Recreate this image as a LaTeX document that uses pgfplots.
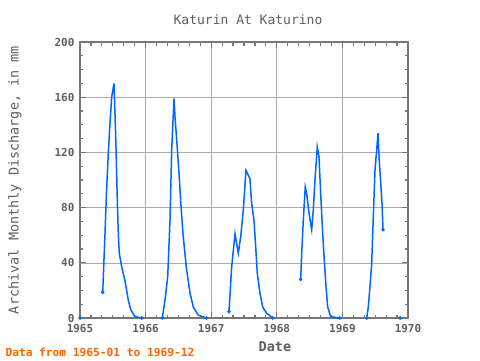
\documentclass[border=0pt]{standalone}
\usepackage{fontspec}
\setmainfont{DejaVu Sans Mono}
\usepackage{pgfplots}
\pgfplotsset{compat=1.18}
\definecolor{lineblue}{RGB}{0,102,255}
\definecolor{framegray}{RGB}{119,119,119}
\definecolor{textgray}{RGB}{95,95,95}
\definecolor{footorange}{RGB}{255,102,0}
\begin{document}
\begin{tikzpicture}[x=1pt,y=1pt]
\useasboundingbox (-80,-42) rectangle (400,318);
\begin{axis}[
  at={(0,0)}, anchor=south west,
  width=328pt, height=276pt, scale only axis,
  xmin=1965, xmax=1970, ymin=0, ymax=200,
  xtick={1965,1966,1967,1968,1969,1970},
  ytick={0,40,80,120,160,200},
  minor x tick num=5, minor y tick num=3,
  xticklabel style={/pgf/number format/1000 sep={}},
  /pgf/number format/assume math mode=true,
  tick label style={font=\fontsize{11}{11}\selectfont\bfseries, text=textgray},
  xticklabel style={yshift=-3pt},
  yticklabel style={xshift=-2pt},
  grid=major, major grid style={color=black!33, line width=0.6pt},
  axis line style={framegray, line width=1.5pt},
  tick style={framegray, line width=1.2pt},
  major tick length=6pt, minor tick length=3.5pt,
  tick align=inside,
  xtick pos=both, ytick pos=both,
  unbounded coords=jump,
  clip=false,
]
\addplot[lineblue, line width=1.5pt] table[row sep=\\] {
x y\\
1965.346 18.6\\ 1965.381 61\\ 1965.407 95\\ 1965.431 119\\ 1965.457 141\\ 1965.483 160\\ 1965.518 170\\
1965.544 132\\ 1965.569 85\\ 1965.584 61\\ 1965.599 47\\ 1965.636 37\\ 1965.686 27\\ 1965.736 13\\
1965.773 6\\ 1965.838 1\\ 1965.94 0\\
nan nan\\
1966.255 0\\ 1966.296 13\\ 1966.337 30\\ 1966.372 71\\ 1966.398 122\\ 1966.433 159\\ 1966.448 146\\
1966.474 129\\ 1966.509 105\\ 1966.54 81\\ 1966.57 61\\ 1966.62 37\\ 1966.677 18\\ 1966.727 8\\
1966.803 2\\ 1966.93 0\\
nan nan\\
1967.271 4.6\\ 1967.312 37\\ 1967.363 61\\ 1967.413 47\\ 1967.45 59\\ 1967.489 78\\ 1967.53 107\\
1967.59 101\\ 1967.617 83\\ 1967.652 71\\ 1967.678 52\\ 1967.703 32\\ 1967.744 18\\ 1967.785 8\\
1967.846 3.4\\ 1967.94 0\\
nan nan\\
1968.364 28\\ 1968.38 47\\ 1968.404 71\\ 1968.434 95\\ 1968.456 90\\ 1968.491 76\\ 1968.532 64\\
1968.556 78\\ 1968.582 100\\ 1968.617 124\\ 1968.643 117\\ 1968.669 90\\ 1968.7 61\\ 1968.724 42\\
1968.75 23\\ 1968.776 8\\ 1968.82 1\\ 1968.96 0\\
nan nan\\
1969.37 0\\ 1969.395 8\\ 1969.421 23\\ 1969.447 40\\ 1969.471 73\\ 1969.497 107\\ 1969.523 122\\
1969.543 134\\ 1969.562 114\\ 1969.584 98\\ 1969.604 83\\ 1969.619 64\\
};
\addplot[only marks, mark=*, mark size=1.6pt, color=lineblue] table[row sep=\\] {
x y\\
1965.0 0\\ 1965.346 18.6\\ 1965.94 0\\ 1966.255 0\\ 1966.93 0\\ 1967.271 4.6\\ 1967.94 0\\
1968.364 28\\ 1968.96 0\\ 1969.37 0\\ 1969.619 64\\ 1969.88 0\\
};
\end{axis}
\node[text=textgray, font=\fontsize{13}{13}\selectfont] at (168,298) {Katurin At Katurino};
\node[text=textgray, font=\fontsize{13.5}{13.5}\selectfont\bfseries] at (195,-29) {Date};
\node[text=textgray, font=\fontsize{13.5}{13.5}\selectfont, rotate=90] at (-65,138) {Archival Monthly Discharge, in mm};
\node[text=footorange, font=\fontsize{11.2}{11.2}\selectfont\bfseries, anchor=west] at (-78,-34) {Data from 1965-01 to 1969-12};
\end{tikzpicture}
\end{document}
